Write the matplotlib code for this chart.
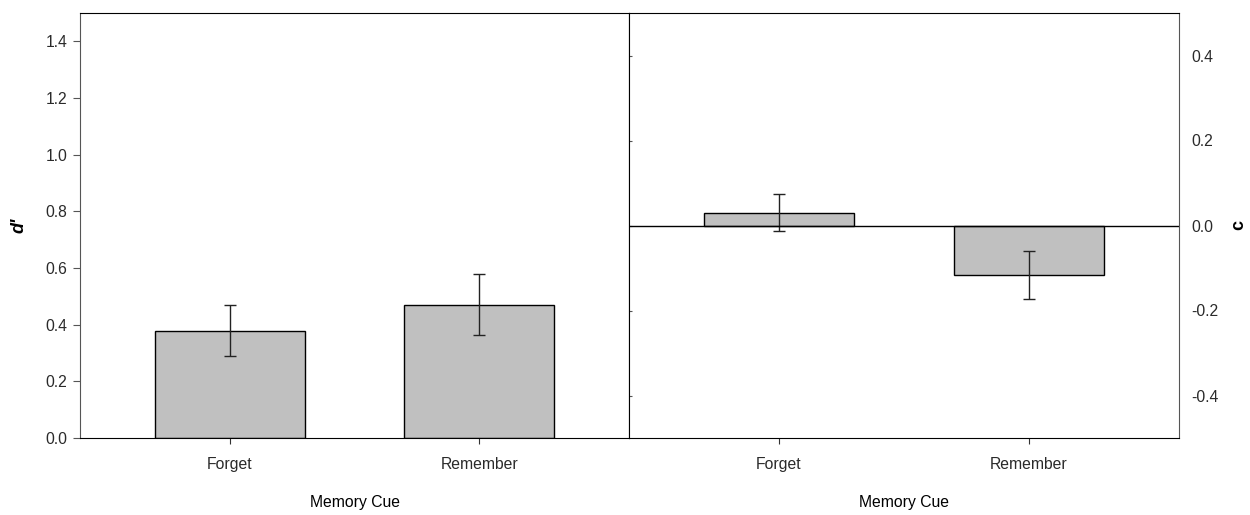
import matplotlib.pyplot as plt
import numpy as np

plt.rcParams['font.family'] = ['Liberation Sans', 'DejaVu Sans']

## datos ##
cues = ["Forget", "Remember"]
dprime = [0.378, 0.470]
dprime_se = [0.090, 0.108]
crit = [0.030, -0.116]
crit_se = [0.043, 0.056]

## ticks ##
yticks_d = [0.0, 0.2, 0.4, 0.6, 0.8, 1.0, 1.2, 1.4]
yticks_c = [-0.4, -0.2, 0.0, 0.2, 0.4]

x = np.arange(1, len(cues) + 1)
bar_col = "#c0c0c0"
txt_col = "#2a2a2a"

fig = plt.figure(figsize=(12.5, 5.15), dpi=100)
ax1 = fig.add_axes([80/1250, 77/515, 549/1250, 425/515])
ax2 = fig.add_axes([629/1250, 77/515, 550/1250, 425/515])

# panel izquierdo: d'
ax1.bar(x, dprime, width=0.6, color=bar_col, edgecolor="black", linewidth=1.0)
ax1.errorbar(x, dprime, yerr=dprime_se, fmt="none", ecolor="#222222",
             elinewidth=1.0, capsize=4, capthick=1.0)
ax1.set_xlim(0.4, 2.6)
ax1.set_ylim(0, 1.5)
ax1.set_xticks(x, cues)
ax1.set_yticks(yticks_d, [f"{v:.1f}" for v in yticks_d])
ax1.tick_params(axis="x", direction="out", length=4, pad=9.5, labelsize=11.3,
                color="#333333", labelcolor=txt_col)
ax1.tick_params(axis="y", direction="out", length=5, pad=4, labelsize=11.3,
                color="#555555", labelcolor=txt_col)
ax1.set_xlabel("Memory Cue", fontsize=11.3, color="black")
ax1.xaxis.set_label_coords(0.5, -0.135)
ax1.set_ylabel("d'", fontsize=13, fontweight="bold", fontstyle="italic")
ax1.yaxis.set_label_coords(-0.095, 0.5)
for s in ["top", "right", "bottom"]:
	ax1.spines[s].set_color("black")
ax1.spines["left"].set_color("#555555")

# panel derecho: c
ax2.bar(x, crit, width=0.6, color=bar_col, edgecolor="black", linewidth=1.0)
ax2.errorbar(x, crit, yerr=crit_se, fmt="none", ecolor="#222222",
             elinewidth=1.0, capsize=4, capthick=1.0)
ax2.axhline(0, color="black", linewidth=1.0)
ax2.set_xlim(0.4, 2.6)
ax2.set_ylim(-0.5, 0.5)
ax2.set_xticks(x, cues)
ax2.set_yticks(yticks_c, [f"{v:.1f}" for v in yticks_c])
ax2.tick_params(axis="x", direction="out", length=4, pad=9.5, labelsize=11.3,
                color="#333333", labelcolor=txt_col)
ax2.tick_params(axis="y", left=True, right=False, labelleft=False, labelright=True,
                direction="in", length=2, pad=9, labelsize=11.3,
                color="#555555", labelcolor=txt_col)
ax2.set_xlabel("Memory Cue", fontsize=11.3, color="black")
ax2.xaxis.set_label_coords(0.5, -0.135)
ax2.yaxis.set_label_position("right")
ax2.set_ylabel("c", fontsize=13, fontweight="bold", rotation=90)
ax2.yaxis.set_label_coords(1.094, 0.5)
ax2.spines["right"].set_color("#555555")

plt.savefig("out.png", dpi=100)
